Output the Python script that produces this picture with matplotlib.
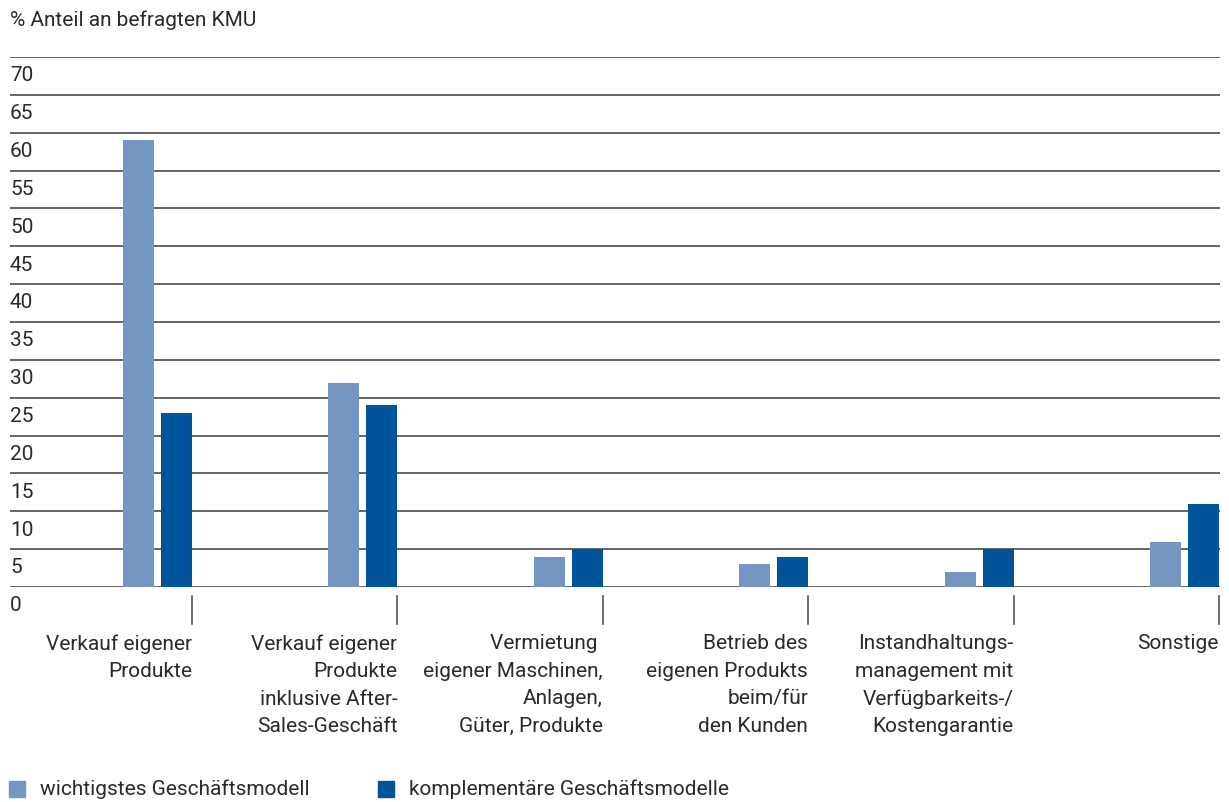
import matplotlib
matplotlib.use("Agg")
import matplotlib.pyplot as plt
import matplotlib.transforms as mtransforms

plt.rcParams['font.family'] = ['Roboto', 'DejaVu Sans']

# Daten
categories = ["Verkauf eigener\nProdukte",
              "Verkauf eigener\nProdukte\ninklusive After-\nSales-Geschäft",
              "Vermietung \neigener Maschinen,\nAnlagen,\nGüter, Produkte",
              "Betrieb des\neigenen Produkts\nbeim/für\nden Kunden",
              "Instandhaltungs-\nmanagement mit\nVerfügbarkeits-/\nKostengarantie",
              "Sonstige"]
wichtigstes = [59, 27, 4, 3, 2, 6]
komplementaer = [23, 24, 5, 4, 5, 11]
series_names = ["wichtigstes Geschäftsmodell", "komplementäre Geschäftsmodelle"]
y_ticks = list(range(0, 75, 5))

c_light = '#7595c3'
c_dark = '#00559a'
txt = '#2a2a2a'
fs = 15

fig = plt.figure(figsize=(12.29, 8.03), dpi=100)
ax = fig.add_axes([10/1229, 1 - 588/803, 1210/1229, 530/803])

pos = [i + 1 for i in range(len(categories))]
bw = 0.151
ax.bar([p - 0.26 for p in pos], wichtigstes, width=bw, color=c_light, zorder=3)
ax.bar([p - 0.0755 for p in pos], komplementaer, width=bw, color=c_dark, zorder=3)

ax.set_xlim(0.114, 6.005)
ax.set_ylim(0, 70)
for s in ax.spines.values():
    s.set_visible(False)
ax.set_xticks([])
ax.set_yticks([])

# Gitterlinien mit Beschriftung unter der Linie
for v in y_ticks:
    ax.axhline(v, color='#3a3a3a', lw=1.1 if v else 1.8, zorder=1)
    ax.annotate(str(v), xy=(0, v), xycoords=('axes fraction', 'data'),
                xytext=(0, -6), textcoords='offset points',
                ha='left', va='top', fontsize=fs, color=txt)

trans = mtransforms.blended_transform_factory(ax.transData, ax.transAxes)
for p, lab in zip(pos, categories):
    ax.plot([p, p], [-9/530, -37/530], color='#555555', lw=1.2,
            transform=trans, clip_on=False)
    ax.text(p, -46/530, lab, transform=trans, ha='right', va='top',
            fontsize=fs, color=txt, linespacing=1.57,
            multialignment='right')

fig.text(10/1229, 1 - 20/803, "% Anteil an befragten KMU", ha='left',
         va='center', fontsize=fs, color=txt)

# Legende
for x0, col, name in [(9, c_light, series_names[0]), (378, c_dark, series_names[1])]:
    fig.patches.append(plt.Rectangle((x0/1229, 1 - 798/803), 16/1229, 16/803,
                                     transform=fig.transFigure, color=col))
    fig.text((x0 + 31)/1229, 1 - 789/803, name, ha='left', va='center',
             fontsize=fs, color=txt)

fig.savefig('out.png', dpi=100)
